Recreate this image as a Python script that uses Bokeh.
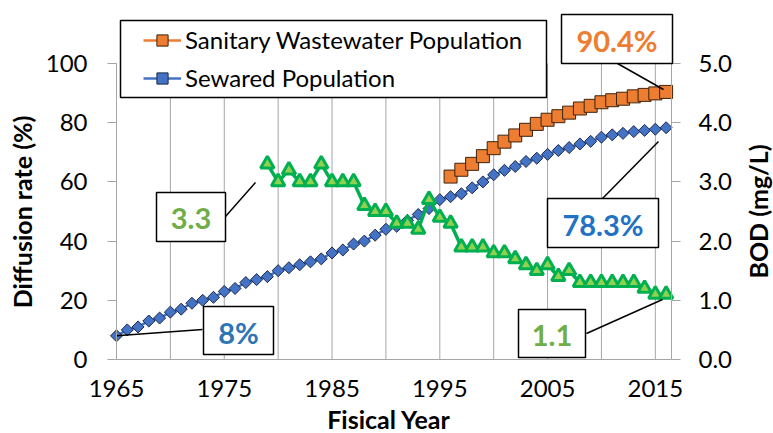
import math
from bokeh.plotting import figure
from bokeh.models import (Range1d, LinearAxis, FixedTicker, NumeralTickFormatter,
                          Legend, LegendItem, Label, BoxAnnotation)
from bokeh.embed import file_html
from bokeh.resources import INLINE

FONT = "Lato"

# ---------------- data ----------------
years_sewer = list(range(1965, 2017))
sewer = [8.0, 10.0, 11.0, 13.0, 14.0, 16.0, 17.0, 19.0, 20.0, 21.0,
         23.0, 24.0, 26.0, 27.0, 28.0, 30.0, 31.0, 32.0, 33.0, 34.0,
         36.0, 37.0, 39.0, 40.0, 42.0, 44.0, 45.0, 47.0, 49.0, 51.0,
         54.0, 55.0, 56.0, 58.0, 60.0, 62.4, 63.9, 65.2, 66.9, 68.0,
         69.3, 70.6, 71.6, 72.8, 73.7, 75.1, 75.9, 76.4, 77.0, 77.4,
         77.8, 78.3]

years_sani = list(range(1996, 2017))
sani = [61.8, 64.1, 66.1, 68.7, 71.4, 73.6, 75.7, 77.6, 79.6, 81.0,
        82.2, 83.4, 84.8, 85.7, 86.9, 87.6, 88.1, 88.9, 89.4, 89.9, 90.4]

years_bod = list(range(1979, 2017))
bod = [3.3, 3.0, 3.2, 3.0, 3.0, 3.3, 3.0, 3.0, 3.0, 2.6,
       2.5, 2.5, 2.3, 2.3, 2.2, 2.7, 2.4, 2.3, 1.9, 1.9,
       1.9, 1.8, 1.8, 1.7, 1.6, 1.5, 1.6, 1.4, 1.5, 1.3,
       1.3, 1.3, 1.3, 1.3, 1.3, 1.2, 1.1, 1.1]

x_ticks = [1965, 1975, 1985, 1995, 2005, 2015]
grid_years = list(range(1965, 2016, 5))
left_ticks = [0, 20, 40, 60, 80, 100]
right_ticks = [0, 1, 2, 3, 4, 5]

legend_labels = ["Sanitary Wastewater Population", "Sewared Population"]
callouts = ["90.4%", "78.3%", "3.3", "8%", "1.1"]

# ---------------- layout helpers (canvas pixels -> data) ----------------
W, H = 773, 433
X0, X1 = 1965, 2016.5          # plotted x extent
Y0, Y1 = 0, 100                # left axis extent
B0, B1 = 0, 5                  # right axis extent
FL, FR, FT, FB = 116.0, 671.0, 63.0, 359.0   # pixel box of the data area


def xd(px):
    return X0 + (px - FL) * (X1 - X0) / (FR - FL)


def yd(py):
    return Y0 + (FB - py) * (Y1 - Y0) / (FB - FT)


def bd(py):
    return B0 + (FB - py) * (B1 - B0) / (FB - FT)


p = figure(width=W, height=H, x_range=Range1d(xd(0), xd(W)), y_range=Range1d(yd(H), yd(0)),
           output_backend="svg", toolbar_location=None,
           min_border_left=0, min_border_right=0, min_border_top=0, min_border_bottom=0)
p.outline_line_color = None
p.background_fill_color = "white"
p.border_fill_color = "white"
p.extra_y_ranges = {"bod": Range1d(bd(H), bd(0))}
p.xgrid.visible = False
p.ygrid.visible = False

AX = "#A6A6A6"
TXT = "#000000"

# x axis
p.xaxis.fixed_location = Y0
p.xaxis.bounds = (X0, X1)
p.xaxis.ticker = FixedTicker(ticks=x_ticks)
p.xaxis.major_tick_out = 0
p.xaxis.major_tick_in = 0
p.xaxis.minor_tick_out = 0
p.xaxis.minor_tick_in = 0
p.xaxis.axis_line_color = AX
p.xaxis.major_label_text_font = FONT
p.xaxis.major_label_text_font_size = "24px"
p.xaxis.major_label_text_color = TXT
p.xaxis.major_label_standoff = 20

# left axis
p.yaxis.fixed_location = X0
p.yaxis.bounds = (Y0, Y1)
p.yaxis.ticker = FixedTicker(ticks=left_ticks)
p.yaxis.major_tick_out = 9
p.yaxis.major_tick_in = 0
p.yaxis.minor_tick_out = 0
p.yaxis.minor_tick_in = 0
p.yaxis.axis_line_color = AX
p.yaxis.major_tick_line_color = AX
p.yaxis.major_label_text_font = FONT
p.yaxis.major_label_text_font_size = "24px"
p.yaxis.major_label_text_color = TXT
p.yaxis.major_label_standoff = 20

# right axis
right = LinearAxis(y_range_name="bod", ticker=FixedTicker(ticks=right_ticks),
                   formatter=NumeralTickFormatter(format="0.0"))
right.fixed_location = X1
right.bounds = (B0, B1)
right.major_tick_out = 9
right.major_tick_in = 0
right.minor_tick_out = 0
right.minor_tick_in = 0
right.axis_line_color = AX
right.major_tick_line_color = AX
right.major_label_text_font = FONT
right.major_label_text_font_size = "24px"
right.major_label_text_color = TXT
right.major_label_standoff = 18
p.add_layout(right, "right")

# vertical grid lines over the data area only
p.segment(x0=grid_years, y0=[Y0] * len(grid_years), x1=grid_years, y1=[Y1] * len(grid_years),
          line_color=AX, line_width=1)

# ---------------- series ----------------
r_sew_line = p.line(years_sewer, sewer, line_color="#4472C4", line_width=2.5)
r_sew_pts = p.scatter(years_sewer, sewer, marker="square", angle=math.pi / 4, size=8.5,
                      fill_color="#4472C4", line_color="#1c2a4a", line_width=1)

r_sani_line = p.line(years_sani, sani, line_color="#ED7D31", line_width=2.5)
r_sani_pts = p.scatter(years_sani, sani, marker="square", size=13,
                       fill_color="#ED7D31", line_color="#3d220c", line_width=1)

p.line(years_bod, bod, y_range_name="bod", line_color="#00B050", line_width=3.5)
p.scatter(years_bod, bod, y_range_name="bod", marker="triangle", size=13.5,
          fill_color="#92D050", line_color="#00B050", line_width=3)

# ---------------- callout leader lines ----------------
lead_x0 = [xd(617), xd(602), xd(225), xd(202), xd(586)]
lead_y0 = [yd(63), yd(198), yd(216), yd(329), yd(333)]
lead_x1 = [xd(663), xd(658), xd(255), years_sewer[0], xd(662)]
lead_y1 = [yd(89), yd(141), yd(182), sewer[0], yd(299)]
p.segment(x0=lead_x0, y0=lead_y0, x1=lead_x1, y1=lead_y1, line_color="black", line_width=1.5)

# ---------------- boxes ----------------
boxes = [
    (120, 546, 20, 97),    # legend
    (561, 672, 14, 63),    # 90.4%
    (547, 658, 198, 247),  # 78.3%
    (156, 225, 192, 241),  # 3.3
    (203, 273, 306, 354),  # 8%
    (518, 585, 309, 357),  # 1.1
]
for (l, r, t, b) in boxes:
    p.add_layout(BoxAnnotation(left=xd(l), right=xd(r), top=yd(t), bottom=yd(b),
                               fill_color="white", fill_alpha=1.0,
                               line_color="black", line_width=1.5, line_alpha=1.0))

callout_colors = ["#ED7D31", "#2272C3", "#70AD47", "#2E75B6", "#70AD47"]
for (l, r, t, b), txt, col in zip(boxes[1:], callouts, callout_colors):
    p.add_layout(Label(x=xd((l + r) / 2), y=yd((t + b) / 2 + 1.5), text=txt,
                       text_font=FONT, text_font_style="bold", text_font_size="29px",
                       text_color=col, text_align="center", text_baseline="middle"))

# ---------------- legend ----------------
legend = Legend(items=[LegendItem(label=legend_labels[0], renderers=[r_sani_line, r_sani_pts]),
                       LegendItem(label=legend_labels[1], renderers=[r_sew_line, r_sew_pts])],
                location=(143, H - 92), padding=0, margin=0, spacing=9,
                glyph_width=38, glyph_height=28, label_height=28, label_standoff=4,
                label_text_font=FONT, label_text_font_size="24px", label_text_color=TXT,
                border_line_color=None, background_fill_alpha=0)
p.add_layout(legend)

# ---------------- axis titles ----------------
p.add_layout(Label(x=xd(21.5), y=yd(211.5), text="Diffusion rate (%)", angle=math.pi / 2,
                   text_font=FONT, text_font_style="bold", text_font_size="25px",
                   text_color=TXT, text_align="center", text_baseline="middle"))
p.add_layout(Label(x=xd(757), y=yd(211), text="BOD (mg/L)", angle=math.pi / 2,
                   text_font=FONT, text_font_style="bold", text_font_size="25px",
                   text_color=TXT, text_align="center", text_baseline="middle"))
p.add_layout(Label(x=xd(388.5), y=yd(418), text="Fisical Year",
                   text_font=FONT, text_font_style="bold", text_font_size="25px",
                   text_color=TXT, text_align="center", text_baseline="middle"))

open("out.html", "w").write(file_html(p, INLINE))
